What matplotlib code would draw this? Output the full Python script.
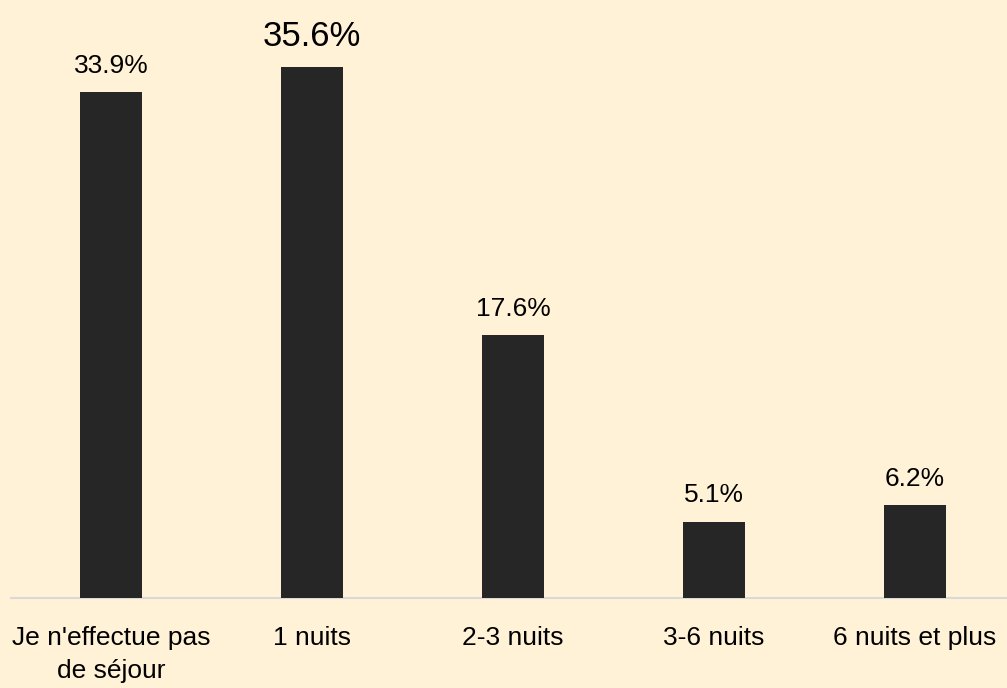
import matplotlib
matplotlib.use("Agg")
import matplotlib.pyplot as plt

categories = ["Je n'effectue pas\nde séjour", "1 nuits", "2-3 nuits", "3-6 nuits", "6 nuits et plus"]
values = [33.9, 35.6, 17.6, 5.1, 6.2]
value_labels = ["33.9%", "35.6%", "17.6%", "5.1%", "6.2%"]

plt.rcParams['font.family'] = ['Liberation Sans', 'DejaVu Sans']

W, H = 1007, 688
bg = "#FFF2D6"
fig = plt.figure(figsize=(W / 100, H / 100), dpi=100, facecolor=bg)
left_px, right_px, base_px = 10.5, 1007, 598
ax = fig.add_axes([left_px / W, (H - base_px) / H, (right_px - left_px) / W, base_px / H])
ax.set_facecolor(bg)

x = list(range(len(categories)))
bars = ax.bar(x, values, width=0.308, color="#262626", zorder=3)
ax.set_xlim(-0.5, (right_px - 111) / 201)
ax.set_ylim(0, base_px / 14.92)

for i, (b, lab) in enumerate(zip(bars, value_labels)):
    big = (i == 1)
    ax.annotate(lab, (b.get_x() + b.get_width() / 2, b.get_height()),
                xytext=(0, 10 if big else 10.5), textcoords="offset points",
                ha="center", va="bottom", fontsize=25 if big else 19, color="#000000")

ax.set_xticks(x)
ax.set_xticklabels(categories, fontsize=19, linespacing=1.45, color="#000000")
ax.tick_params(axis="x", length=0, pad=20.5)
ax.set_yticks([])
for s in ["top", "left", "right"]:
    ax.spines[s].set_visible(False)
ax.spines["bottom"].set_color("#D9D9D9")
ax.spines["bottom"].set_linewidth(1.5)

fig.savefig("out.png", dpi=100, facecolor=bg)
